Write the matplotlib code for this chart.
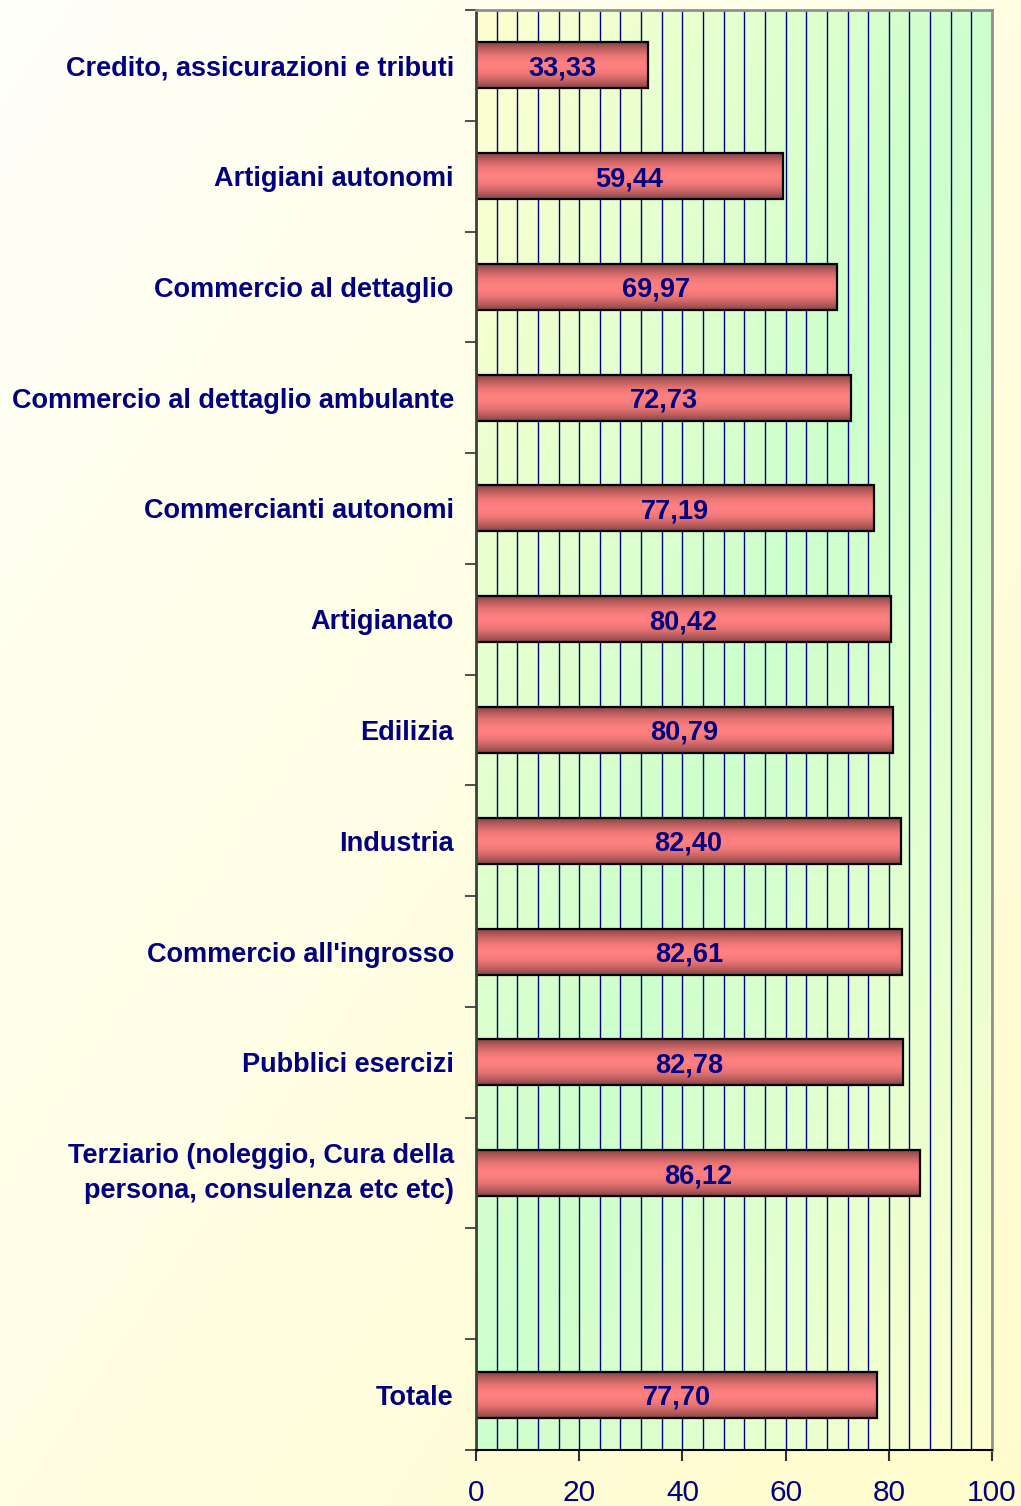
import numpy as np
import matplotlib
matplotlib.use("Agg")
import matplotlib.pyplot as plt
from matplotlib.ticker import MultipleLocator, FixedLocator

# ---- data ----
categories = [
    "Credito, assicurazioni e tributi",
    "Artigiani autonomi",
    "Commercio al dettaglio",
    "Commercio al dettaglio ambulante",
    "Commercianti autonomi",
    "Artigianato",
    "Edilizia",
    "Industria",
    "Commercio all'ingrosso",
    "Pubblici esercizi",
    "Terziario (noleggio, Cura della\npersona, consulenza etc etc)",
    "",
    "Totale",
]
values = [33.33, 59.44, 69.97, 72.73, 77.19, 80.42, 80.79, 82.40, 82.61, 82.78, 86.12, None, 77.70]
value_labels = ["33,33", "59,44", "69,97", "72,73", "77,19", "80,42", "80,79",
                "82,40", "82,61", "82,78", "86,12", "", "77,70"]
xticks = [0, 20, 40, 60, 80, 100]

NAVY = "#000080"
FONT = ["Liberation Sans", "DejaVu Sans"]
plt.rcParams["font.family"] = FONT

W, H, DPI = 1021, 1506, 100
fig = plt.figure(figsize=(W / DPI, H / DPI), dpi=DPI)

# figure background: diagonal pale gradient
bgax = fig.add_axes([0, 0, 1, 1], zorder=-10)
bgax.set_axis_off()
gx, gy = np.meshgrid(np.linspace(0, 1, 200), np.linspace(0, 1, 200))
t = (gx + gy) / 2.0
c0 = np.array([1.0, 1.0, 0.975])
c1 = np.array([1.0, 0.99, 0.80])
img = c0[None, None, :] * (1 - t[..., None]) + c1[None, None, :] * t[..., None]
bgax.imshow(img, extent=(0, 1, 0, 1), origin="upper", aspect="auto")
bgax.set_xlim(0, 1); bgax.set_ylim(0, 1)

# main axes
left, right = 476 / W, 992 / W
top, bottom = 1 - 10 / H, 1 - 1450 / H
ax = fig.add_axes([left, bottom, right - left, top - bottom])

# plot-area gradient: yellow corners (TL, BR), green along anti-diagonal
yellow = np.array([1.0, 1.0, 0.82])
green = np.array([0.80, 1.0, 0.80])
u, v = np.meshgrid(np.linspace(0, 1, 300), np.linspace(0, 1, 300))
s = np.abs(u + v - 1.0)
pimg = green[None, None, :] * (1 - s[..., None]) + yellow[None, None, :] * s[..., None]
ax.imshow(pimg, extent=(0, 1, 0, 1), origin="upper", aspect="auto",
          transform=ax.transAxes, zorder=0)

ypos = np.arange(len(categories))
bar_h = 0.415
plot_vals = [v if v is not None else 0 for v in values]
bars = ax.barh(ypos, plot_vals, height=bar_h, facecolor="none",
               edgecolor="black", linewidth=1.6, zorder=4)

# cylinder-like shading for each bar
prof = np.linspace(-1, 1, 64)
shade = np.cos(prof * np.pi / 2) ** 0.9
dark = np.array([0.52, 0.26, 0.26])
light = np.array([1.0, 0.50, 0.50])
bar_img = dark[None, :] * (1 - shade[:, None]) + light[None, :] * shade[:, None]
bar_img = bar_img[:, None, :]
for b, v, lab in zip(bars, values, value_labels):
    if v is None:
        b.set_visible(False)
        continue
    x0, y0, w, h = b.get_x(), b.get_y(), b.get_width(), b.get_height()
    im = ax.imshow(bar_img, extent=(x0, x0 + w, y0 + h, y0), origin="upper",
                   aspect="auto", zorder=3, interpolation="bilinear")
    im.set_clip_path(b)
    ax.text(x0 + w / 2, y0 + h / 2, lab, ha="center", va="center_baseline",
            fontsize=19.5, fontweight="bold", color=NAVY, zorder=5)

# axes limits/ticks
ax.set_xlim(0, 100)
ax.set_ylim(len(categories) - 0.5, -0.5)
ax.set_aspect("auto")

ax.xaxis.set_major_locator(FixedLocator(xticks))
ax.set_xticklabels([str(x) for x in xticks])
ax.xaxis.set_minor_locator(MultipleLocator(4))
ax.tick_params(axis="x", which="major", direction="out", length=8, width=1.5,
               color="#303030", labelsize=21.5, labelcolor=NAVY, pad=13)
ax.tick_params(axis="x", which="minor", length=0)

ax.set_yticks(ypos)
ax.set_yticklabels(categories, fontsize=19.5, fontweight="bold", color=NAVY,
                   linespacing=1.45)
ax.yaxis.set_minor_locator(FixedLocator(np.arange(-0.5, len(categories), 1.0)))
ax.tick_params(axis="y", which="major", length=0, pad=16)
ax.tick_params(axis="y", which="minor", direction="out", length=8, width=1.2,
               color="#303030")
for lbl in ax.get_yticklabels():
    lbl.set_horizontalalignment("right")
    if "\n" in lbl.get_text():
        lbl.set_verticalalignment("center")
    else:
        lbl.set_verticalalignment("center_baseline")

ax.grid(True, axis="x", which="both", color=NAVY, linewidth=1.0, alpha=1.0, zorder=1)
ax.set_axisbelow(True)

ax.spines["left"].set_color("#404040")
ax.spines["left"].set_linewidth(2)
ax.spines["bottom"].set_color("black")
ax.spines["bottom"].set_linewidth(1.5)
ax.spines["top"].set_color("#909090")
ax.spines["top"].set_linewidth(2)
ax.spines["right"].set_color("#909090")
ax.spines["right"].set_linewidth(2)
for sp in ax.spines.values():
    sp.set_zorder(6)

fig.savefig("out.png", dpi=DPI)
